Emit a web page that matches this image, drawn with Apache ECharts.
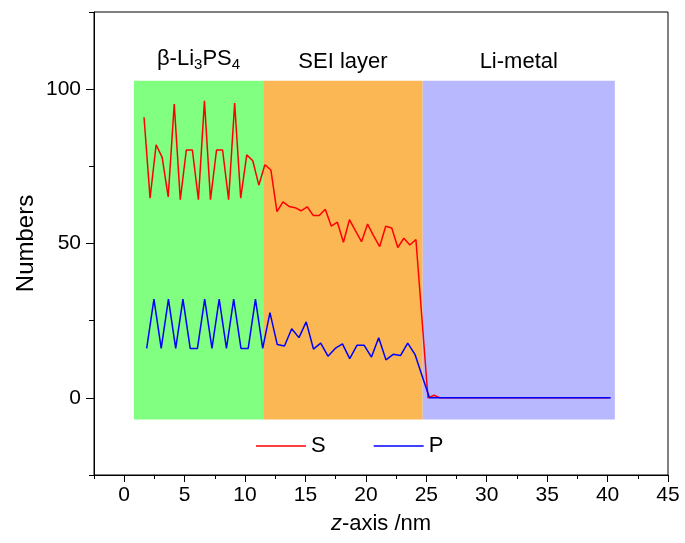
<!DOCTYPE html>
<html>
<head>
<meta charset="utf-8">
<script src="https://cdn.jsdelivr.net/npm/echarts@6/dist/echarts.min.js"></script>
<style>
html,body{margin:0;padding:0;background:#fff;}
#chart{width:685px;height:543px;}
</style>
</head>
<body>
<div id="chart"></div>
<script>
// ---- data ----
var sX = [1.64,2.14,2.64,3.14,3.64,4.14,4.64,5.14,5.64,6.14,6.64,7.14,7.64,8.14,8.64,9.14,9.64,10.14,10.64,11.14,
  11.64,12.14,12.64,13.14,13.64,14.14,14.64,15.14,15.64,16.14,16.64,17.14,17.64,18.14,18.64,19.14,19.64,20.14,20.64,21.14,
  21.64,22.14,22.64,23.14,23.64,24.14,24.64,25.14,25.64,26.14,26.64,27.14,27.64,28.14,28.64,29.14,29.64,30.14,30.64,31.14,
  31.64,32.14,32.64,33.14,33.64,34.14,34.64,35.14,35.64,36.14,36.64,37.14,37.64,38.14,38.64,39.14,39.64,40.14];
var sY = [90.9,64.7,82.0,77.9,65.1,95.2,64.2,80.3,80.3,64.2,96.2,64.2,80.3,80.3,64.2,95.5,64.7,78.7,76.8,68.9,
  75.5,73.8,60.3,63.5,62.0,61.6,60.6,61.9,59.1,59.1,61.1,55.6,56.9,50.4,57.7,54.1,50.6,56.3,52.5,49.0,
  55.6,55.0,48.7,51.7,49.5,51.3,25.6,0,0.85,0,0,0,0,0,0,0,0,0,0,0,
  0,0,0,0,0,0,0,0,0,0,0,0,0,0,0,0,0,0];
var pX = [1.86,2.46,3.06,3.66,4.26,4.86,5.46,6.06,6.66,7.26,7.86,8.46,9.06,9.66,10.26,10.86,11.46,
  12.06,12.66,13.26,13.86,14.46,15.06,15.66,16.26,16.86,17.46,18.06,18.66,19.26,19.86,20.46,21.06,21.66,22.26,22.86,23.46,24.06,
  24.66,25.26,25.86,26.46,27.06,27.66,28.26,28.86,29.46,30.06,30.66,31.26,31.86,32.46,33.06,33.66,34.26,34.86,35.46,36.06,
  36.66,37.26,37.86,38.46,39.06,39.66,40.26];
var pY = [16,32,16,32,16,32,16,16,32,16,32,16,32,16,16,32,16,
  27.6,17.3,16.8,22.4,19.5,24.6,15.8,17.7,13.5,16.0,17.5,12.7,17.0,17.0,13.2,19.5,12.3,14.1,13.7,17.7,14.1,
  7.0,0,0,0,0,0,0,0,0,0,0,0,0,0,0,0,0,0,0,0,
  0,0,0,0,0,0,0];
var regionNames = ['{n|β-Li}{s|3}{n|PS}{s|4}', 'SEI layer', 'Li-metal'];
var regionStart = [0.8, 11.5, 24.7];
var regionEnd = [11.5, 24.7, 40.6];
var regionTop = 102.7;
var regionBottom = -7;
var xTickLabels = [0,5,10,15,20,25,30,35,40,45];
var yTickLabels = [0,50,100];
var seriesNames = ['S','P'];

// ---- styles ----
var regionColors = ['#80FF80', '#FCB755', '#B8B8FF'];
var FONT = '"Liberation Sans", Arial, sans-serif';

function pairs(xs, ys){ var out=[]; for (var i=0;i<xs.length;i++) out.push([xs[i], ys[i]]); return out; }

var areas = [];
for (var i=0;i<regionNames.length;i++){
  areas.push([
    {xAxis: regionStart[i], yAxis: regionTop, itemStyle:{color: regionColors[i], opacity:1},
     label:{formatter: regionNames[i]}},
    {xAxis: regionEnd[i], yAxis: regionBottom}
  ]);
}

var chart = echarts.init(document.getElementById('chart'), null, {renderer:'canvas'});
chart.setOption({
  animation:false,
  backgroundColor:'#fff',
  textStyle:{fontFamily:FONT},
  grid:{left:94, right:17, top:12, bottom:68, show:true, borderColor:'#000', borderWidth:1, backgroundColor:'transparent'},
  legend:{
    data: seriesNames,
    left:256, top:435, padding:0,
    itemWidth:50, itemHeight:14, itemGap:48,
    textStyle:{fontSize:22, color:'#000', fontFamily:FONT, padding:[0,0,0,0]},
    icon:'path://M0,0 L50,0 L50,1.6 L0,1.6 Z'
  },
  xAxis:[{
    type:'value', min:-2.5, max:45, position:'bottom',
    name:'{i|z}-axis /nm', nameLocation:'middle', nameGap:38, nameMoveOverlap:false,
    nameTextStyle:{fontSize:22, color:'#000', fontFamily:FONT, rich:{i:{fontStyle:'italic', fontSize:22, fontFamily:FONT, color:'#000'}}},
    axisLine:{show:true, onZero:false, lineStyle:{color:'#000', width:1}},
    axisTick:{show:true, inside:false, length:7, customValues:xTickLabels, lineStyle:{color:'#000', width:1}},
    axisLabel:{show:true, customValues:xTickLabels, fontSize:21, color:'#000', margin:10, fontFamily:FONT},
    splitLine:{show:false}
  },{
    type:'value', min:-2.5, max:45, interval:2.5, position:'bottom', gridIndex:0,
    axisLine:{show:false, onZero:false}, axisLabel:{show:false}, splitLine:{show:false},
    axisTick:{show:true, length:4, lineStyle:{color:'#000', width:1}}
  }],
  yAxis:[{
    type:'value', min:-25, max:125, position:'left',
    name:'Numbers', nameLocation:'middle', nameGap:56, nameRotate:90, nameMoveOverlap:false,
    nameTextStyle:{fontSize:24, color:'#000', fontFamily:FONT},
    axisLine:{show:true, onZero:false, lineStyle:{color:'#000', width:1}},
    axisTick:{show:true, inside:false, length:8, customValues:yTickLabels, lineStyle:{color:'#000', width:1}},
    axisLabel:{show:true, customValues:yTickLabels, fontSize:21, color:'#000', margin:13, fontFamily:FONT},
    splitLine:{show:false}
  },{
    type:'value', min:-25, max:125, interval:25, position:'left', gridIndex:0,
    axisLine:{show:false, onZero:false}, axisLabel:{show:false}, splitLine:{show:false},
    axisTick:{show:true, length:5, lineStyle:{color:'#000', width:1}}
  }],
  series:[
    {
      name:'regions', type:'line', data:[], z:1, silent:true,
      markArea:{
        silent:true,
        label:{show:true, position:'top', distance:8, color:'#000', fontSize:22, fontFamily:FONT,
          rich:{
            n:{fontSize:22, color:'#000', fontFamily:FONT, lineHeight:28},
            s:{fontSize:15, color:'#000', fontFamily:FONT, lineHeight:15, verticalAlign:'bottom'}
          }},
        data: areas
      }
    },
    {name:seriesNames[0], type:'line', data:pairs(sX, sY), symbol:'none', z:3,
     lineStyle:{color:'#FF0000', width:1.5}, itemStyle:{color:'#FF0000'}},
    {name:seriesNames[1], type:'line', data:pairs(pX, pY), symbol:'none', z:4,
     lineStyle:{color:'#0000FF', width:1.5}, itemStyle:{color:'#0000FF'}}
  ]
});
</script>
</body>
</html>
